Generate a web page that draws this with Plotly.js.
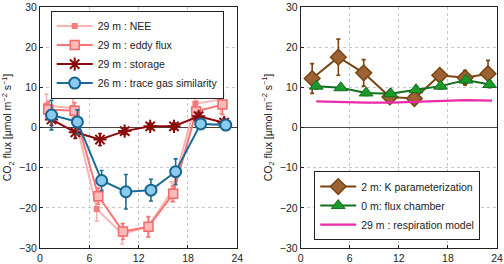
<!DOCTYPE html>
<html>
<head>
<meta charset="utf-8">
<script src="https://cdn.plot.ly/plotly-3.0.1.min.js"></script>
<style>
  html, body { margin: 0; padding: 0; background: #fff; }
  #chart { width: 504px; height: 264px; }
</style>
</head>
<body>
<div id="chart"></div>
<script>
// Diurnal CO2 flux at the tower (hour of day)
const neeHours     = [0.8, 4.0, 6.9, 10.0, 13.1, 16.0, 18.9, 22.0];
const neeFlux      = [5.5, 4.8, -20.3, -26.5, -24.8, -16.0, 5.9, 7.0];
const neeErr       = [2.8, 2.5, 3.0, 2.5, 2.5, 2.5, 2.8, 3.5];

const eddyHours    = [1.0, 4.2, 7.1, 10.1, 13.2, 16.2, 19.0, 22.2];
const eddyFlux     = [4.5, 4.2, -17.1, -25.9, -24.7, -16.5, 4.0, 5.7];
const eddyErr      = [2.0, 2.0, 2.0, 2.0, 2.5, 2.0, 2.5, 2.5];

const storageHours = [1.4, 4.3, 7.3, 10.3, 13.4, 16.3, 19.3, 22.4];
const storageFlux  = [2.0, -1.2, -3.0, -0.9, 0.3, 0.3, 2.8, 1.2];
const storageErr   = [1.5, 1.5, 1.5, 0.8, 0.8, 0.8, 1.0, 1.0];

const traceHours   = [1.4, 4.55, 7.5, 10.45, 13.5, 16.5, 19.55, 22.6];
const traceFlux    = [3.1, 1.4, -13.2, -16.0, -15.6, -11.0, 0.9, 0.6];
const traceErr     = [3.7, 3.0, 2.5, 4.3, 2.7, 3.2, 0.8, 0.6];

// Soil-level fluxes
const kHours       = [1.4, 4.6, 7.7, 10.9, 13.9, 17.0, 20.1, 22.9];
const kFlux        = [12.2, 17.5, 13.6, 7.6, 7.2, 13.0, 12.4, 13.4];
const kErr         = [3.7, 4.5, 3.3, 0.8, 1.2, 1.0, 1.8, 3.3];

const chamberHours = [1.9, 4.9, 8.0, 11.0, 14.1, 17.1, 20.2, 23.1];
const chamberFlux  = [10.3, 9.9, 8.6, 8.4, 9.4, 10.3, 11.8, 10.7];
const chamberErr   = [0.7, 0.6, 0.6, 0.6, 0.6, 0.7, 0.8, 0.8];

const respHours    = [1.9, 4.9, 8.0, 11.0, 14.1, 17.1, 20.2, 23.4];
const respFlux     = [6.5, 6.3, 6.2, 6.2, 6.4, 6.7, 6.8, 6.7];

const xTicks = [0, 6, 12, 18, 24];
const yTicks = [-30, -20, -10, 0, 10, 20, 30];

const FONT = 'Liberation Sans, Arial, Helvetica, sans-serif';

function errs(arr, color) {
  return { type: 'data', array: arr, visible: true, color: color, thickness: 1.6, width: 2 };
}

const traces = [
  {
    x: neeHours, y: neeFlux, name: '29 m : NEE', mode: 'lines+markers',
    line: { color: '#f9b4b4', width: 2 },
    marker: { symbol: 'square', size: 6, color: '#f37c7c', line: { width: 0 } },
    error_y: errs(neeErr, '#f9b4b4'),
    xaxis: 'x', yaxis: 'y', legend: 'legend'
  },
  {
    x: eddyHours, y: eddyFlux, name: '29 m : eddy flux', mode: 'lines+markers',
    line: { color: '#f47676', width: 2 },
    marker: { symbol: 'square', size: 9, color: '#fbbaba', line: { color: '#f26b6b', width: 1.5 } },
    error_y: errs(eddyErr, '#f47676'),
    xaxis: 'x', yaxis: 'y', legend: 'legend'
  },
  {
    x: storageHours, y: storageFlux, name: '29 m : storage', mode: 'lines+markers',
    line: { color: '#8c0a0a', width: 2 },
    marker: { symbol: 'asterisk-open', size: 11, color: '#8c0a0a', line: { color: '#8c0a0a', width: 2 } },
    error_y: errs(storageErr, '#8c0a0a'),
    xaxis: 'x', yaxis: 'y', legend: 'legend'
  },
  {
    x: traceHours, y: traceFlux, name: '26 m : trace gas similarity', mode: 'lines+markers',
    line: { color: '#1b6d97', width: 2 },
    marker: { symbol: 'circle', size: 11, color: '#8ccbf0', line: { color: '#17658e', width: 2 } },
    error_y: errs(traceErr, '#1b6d97'),
    xaxis: 'x', yaxis: 'y', legend: 'legend'
  },
  {
    x: kHours, y: kFlux, name: '2 m: K parameterization', mode: 'lines+markers',
    line: { color: '#7a4413', width: 2 },
    marker: { symbol: 'diamond', size: 12, color: '#9c6234', line: { color: '#7a4413', width: 1.5 } },
    error_y: errs(kErr, '#7a4413'),
    xaxis: 'x2', yaxis: 'y2', legend: 'legend2'
  },
  {
    x: chamberHours, y: chamberFlux, name: '0 m: flux chamber', mode: 'lines+markers',
    line: { color: '#14701c', width: 2 },
    marker: { symbol: 'triangle-up', size: 12, color: '#1a9a2a', line: { color: '#14701c', width: 1 } },
    error_y: errs(chamberErr, '#14701c'),
    xaxis: 'x2', yaxis: 'y2', legend: 'legend2'
  },
  {
    x: respHours, y: respFlux, name: '29 m : respiration model', mode: 'lines',
    line: { color: '#ee2aa8', width: 2.2 },
    xaxis: 'x2', yaxis: 'y2', legend: 'legend2'
  }
];

function xAxis(domain, anchor) {
  return {
    domain: domain, anchor: anchor, range: [0, 24],
    tickvals: xTicks, ticktext: xTicks.map(String),
    showline: true, linecolor: '#222', linewidth: 1, mirror: true,
    ticks: 'inside', ticklen: 3, tickcolor: '#222',
    showgrid: true, gridcolor: '#c8c8c8', griddash: 'dot', gridwidth: 1,
    zeroline: false,
    tickfont: { size: 10.5, color: '#222' }
  };
}
function yAxis(anchor) {
  return {
    anchor: anchor, range: [-30, 30],
    tickvals: yTicks, ticktext: yTicks.map(v => v < 0 ? '\u2212' + Math.abs(v) : String(v)),
    showline: true, linecolor: '#222', linewidth: 1, mirror: true,
    ticks: 'inside', ticklen: 3, tickcolor: '#222',
    showgrid: true, gridcolor: '#c8c8c8', griddash: 'dot', gridwidth: 1,
    zeroline: true, zerolinecolor: '#444', zerolinewidth: 1,
    tickfont: { size: 10.5, color: '#222' },
    title: {
      text: 'CO<sub>2</sub> flux [µmol m<sup>\u22122</sup> s<sup>\u22121</sup>]',
      font: { size: 10.5, color: '#222' }, standoff: 5
    }
  };
}

const legendStyle = {
  bgcolor: '#ffffff', bordercolor: '#222', borderwidth: 1,
  font: { size: 10.5, color: '#222', family: FONT },
  itemwidth: 36, tracegroupgap: 0
};

const layout = {
  width: 504, height: 264,
  margin: { l: 40, r: 7, t: 7, b: 16 },
  paper_bgcolor: '#ffffff', plot_bgcolor: '#ffffff',
  font: { family: FONT, color: '#222' },
  showlegend: true,
  xaxis: xAxis([0, 0.4317], 'y'),
  yaxis: yAxis('x'),
  xaxis2: xAxis([0.5705, 1], 'y2'),
  yaxis2: yAxis('x2'),
  legend: Object.assign({ x: 0.0234, y: 0.985, xanchor: 'left', yanchor: 'top' }, legendStyle),
  legend2: Object.assign({ x: 0.600, y: 0.033, xanchor: 'left', yanchor: 'bottom' }, legendStyle)
};

Plotly.newPlot('chart', traces, layout, { displayModeBar: false, staticPlot: true });
</script>
</body>
</html>
